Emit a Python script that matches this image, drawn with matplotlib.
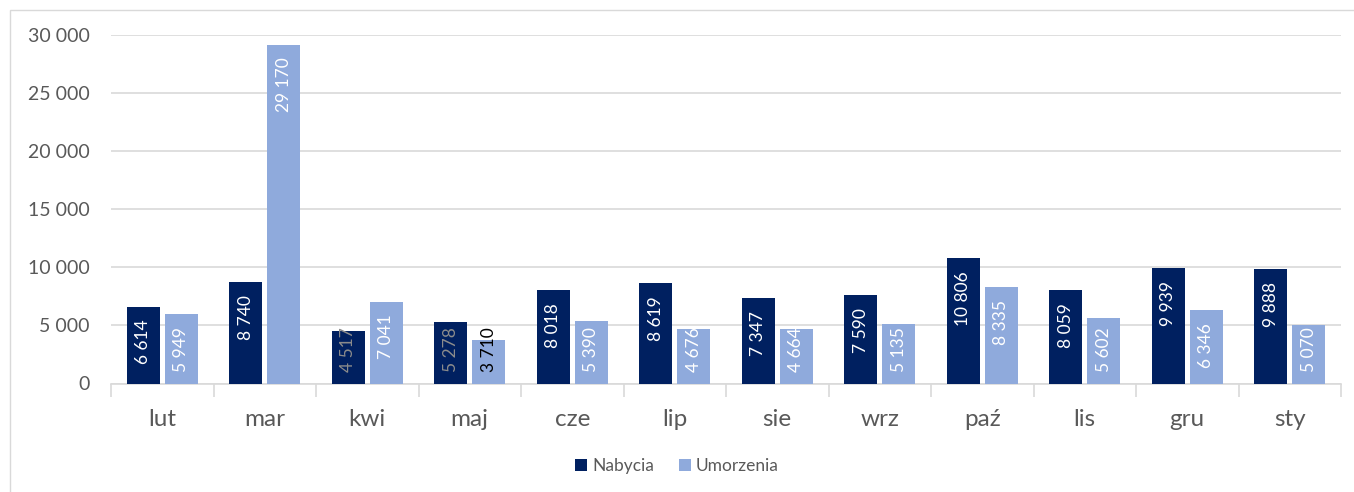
import matplotlib
matplotlib.use("Agg")
import matplotlib.pyplot as plt
import numpy as np
from matplotlib.patches import Rectangle

months = ["lut", "mar", "kwi", "maj", "cze", "lip", "sie", "wrz", "paź", "lis", "gru", "sty"]
nabycia = [6614, 8740, 4517, 5278, 8018, 8619, 7347, 7590, 10806, 8059, 9939, 9888]
umorzenia = [5949, 29170, 7041, 3710, 5390, 4676, 4664, 5135, 8335, 5602, 6346, 5070]
nab_label_colors = ["white", "white", "#8c8c8c", "#8c8c8c", "white", "white", "white", "white", "white", "white", "white", "white"]
umo_label_colors = ["white", "white", "white", "black", "white", "white", "white", "white", "white", "white", "white", "white"]
yticks = [0, 5000, 10000, 15000, 20000, 25000, 30000]

plt.rcParams['font.family'] = ['Lato', 'DejaVu Sans']

W, H = 1354, 492
fig = plt.figure(figsize=(W / 100, H / 100), dpi=100)
fig.patches.append(Rectangle((10 / W, -0.1), 1.2, (1 - 10 / H) + 0.1, transform=fig.transFigure,
                             fill=False, edgecolor="#d9d9d9", linewidth=1.0))

ax = fig.add_axes([111 / W, 1 - 383.5 / H, (1341 - 111) / W, (383.5 - 35) / H])

dark = "#002060"
light = "#8FAADC"
x = np.arange(len(months))
bw = 0.32
gap = 0.05
off = (bw + gap) / 2

b1 = ax.bar(x - off, nabycia, bw, color=dark, label="Nabycia", zorder=3)
b2 = ax.bar(x + off, umorzenia, bw, color=light, label="Umorzenia", zorder=3)

ax.set_xlim(-0.5, len(months) - 0.5)
ax.set_ylim(0, 30000)


def fmt(v):
    return f"{v:,}".replace(",", " ")


fig.canvas.draw()
renderer = fig.canvas.get_renderer()
px_per_unit = ax.bbox.height / 30000.0
top_pad_px = 13
bottom_min_px = 12

for xs, vals, cols in ((x - off, nabycia, nab_label_colors), (x + off, umorzenia, umo_label_colors)):
    for xi, v, c in zip(xs, vals, cols):
        t = ax.annotate(fmt(v), (xi, v), xytext=(0, -top_pad_px), textcoords="offset pixels",
                        rotation=90, ha="center", va="top", color=c, fontsize=12.5, zorder=4)
        L = t.get_window_extent(renderer).height
        bar_px = v * px_per_unit
        if bar_px - top_pad_px - L < bottom_min_px:
            t.set_position((0, bottom_min_px + L - bar_px))

ax.set_yticks(yticks)
ax.set_yticklabels([fmt(v) for v in yticks])
ax.yaxis.grid(True, color="#d9d9d9", linewidth=1.2, zorder=0)
ax.set_axisbelow(True)

ax.set_xticks(x)
ax.set_xticklabels(months)
ax.set_xticks(np.arange(-0.5, len(months)), minor=True)
ax.tick_params(axis="x", which="major", length=0, pad=18, labelsize=17.5, labelcolor="#595959")
ax.tick_params(axis="x", which="minor", length=9, color="#d9d9d9", width=1.2)
ax.tick_params(axis="y", length=0, pad=15.5, labelsize=14, labelcolor="#595959")

for s in ["top", "right", "left"]:
    ax.spines[s].set_visible(False)
ax.spines["bottom"].set_color("#d9d9d9")
ax.spines["bottom"].set_linewidth(1.2)

leg = fig.legend(handles=[b1, b2], loc="center", bbox_to_anchor=(0.5, 1 - 466 / H), ncol=2,
                 frameon=False, fontsize=12.5, handlelength=0.7, handleheight=0.7,
                 handletextpad=0.3, columnspacing=1.4)
for t in leg.get_texts():
    t.set_color("#595959")

fig.savefig("out.png", dpi=100)
